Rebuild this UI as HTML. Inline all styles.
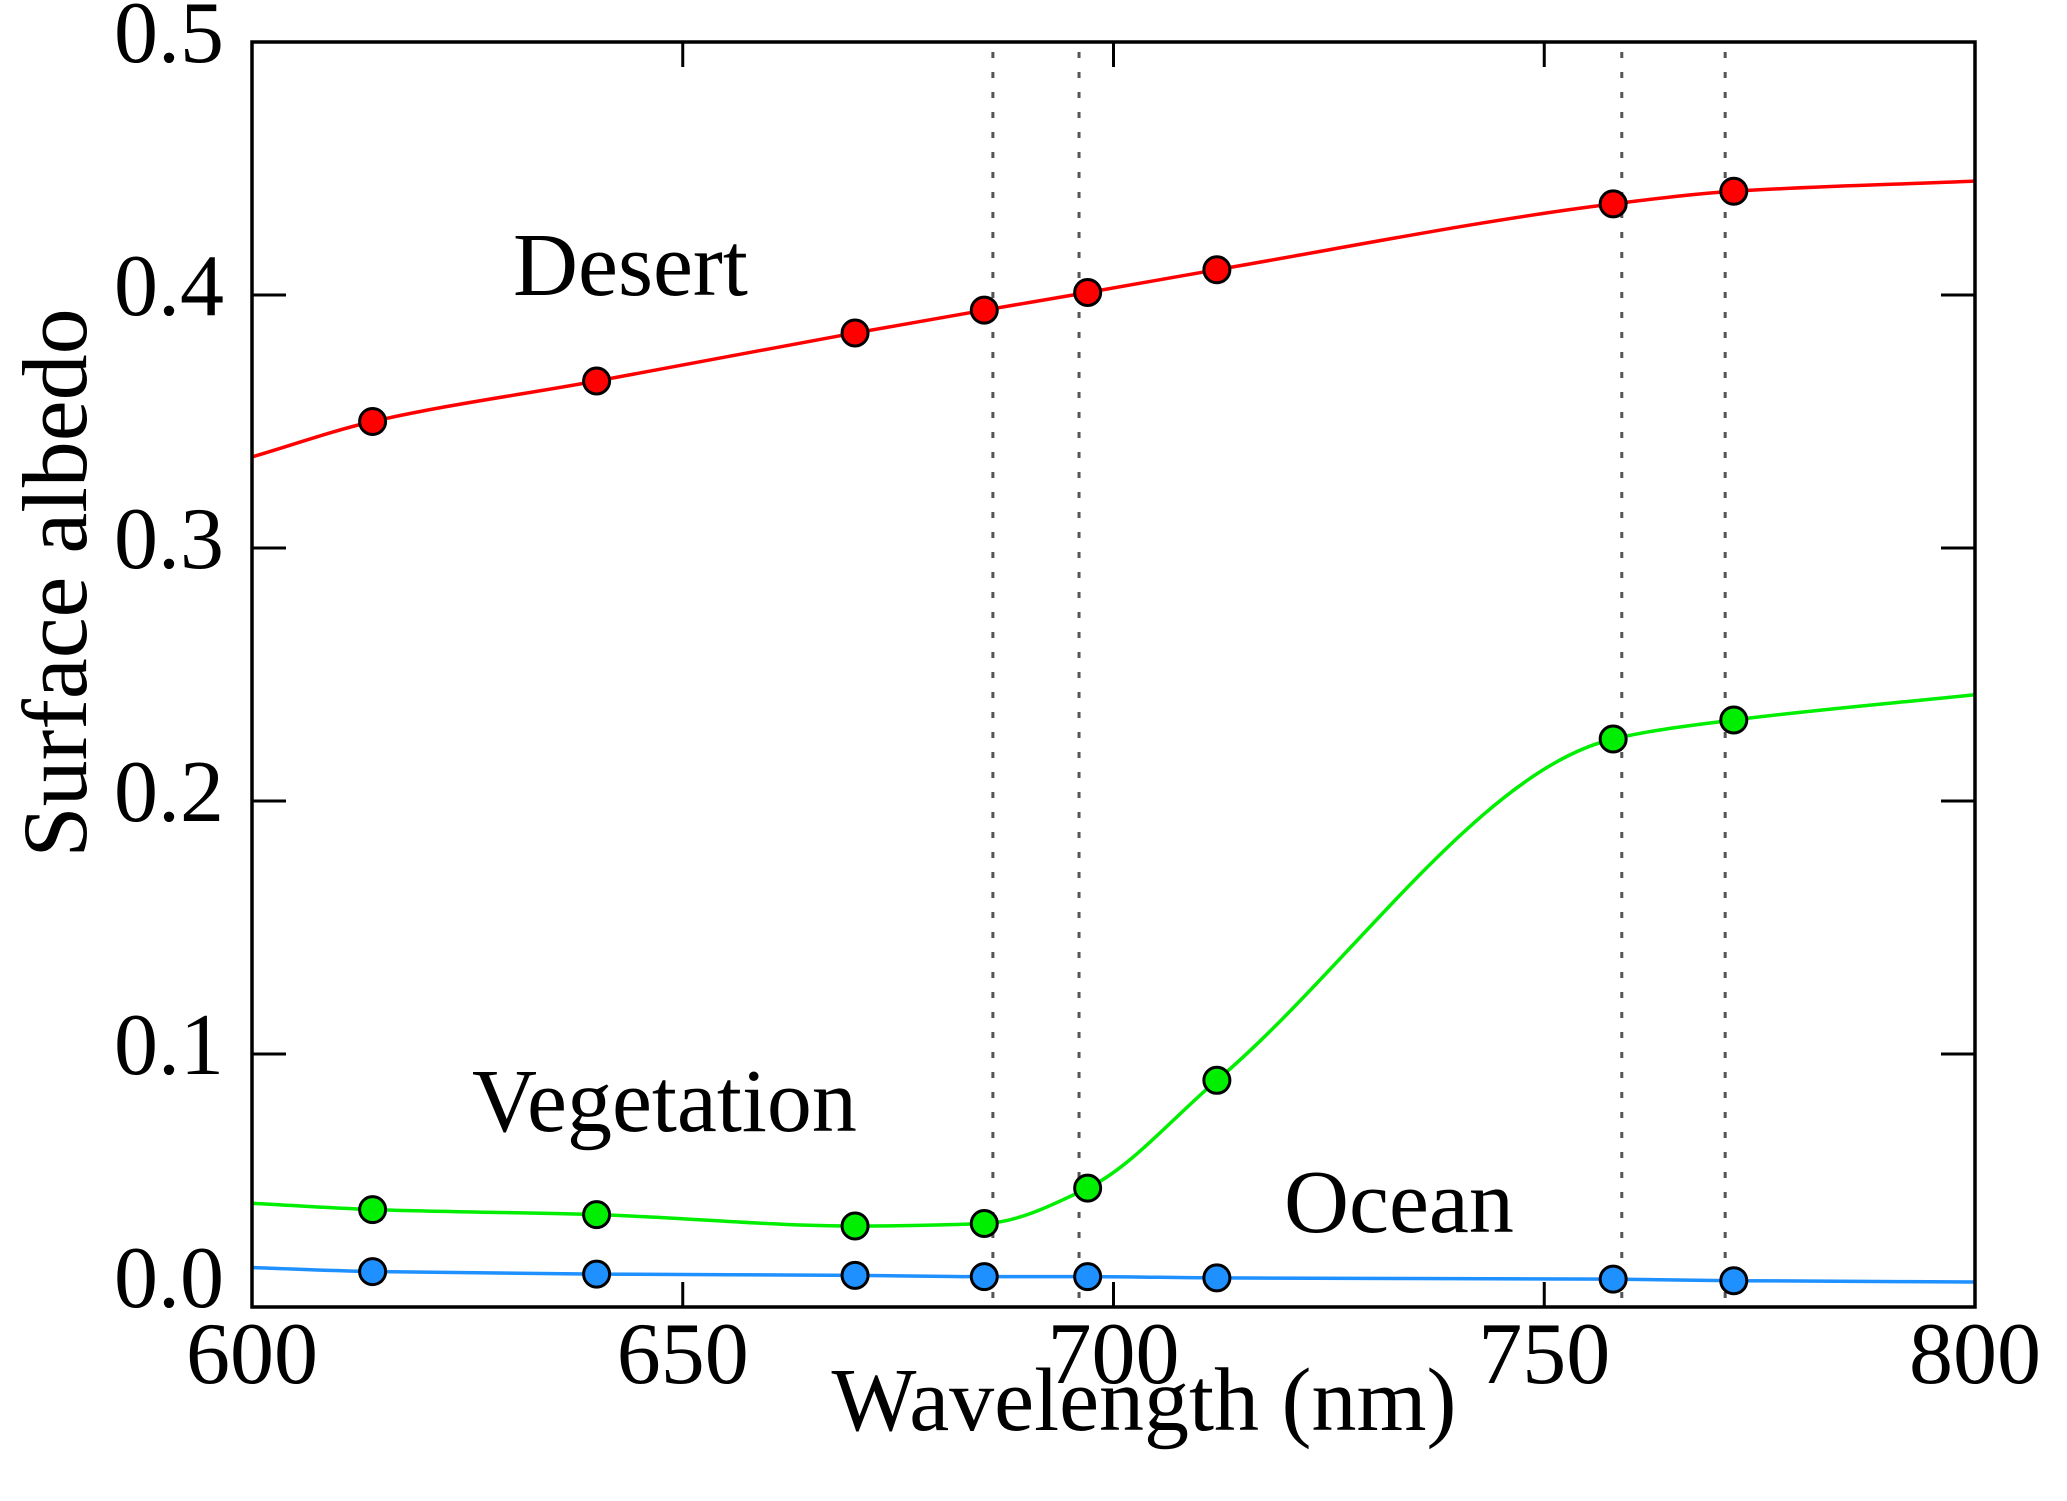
<!DOCTYPE html>
<html><head><meta charset="utf-8">
<style>
html,body{margin:0;padding:0;background:#fff;}
svg{display:block;font-family:"Liberation Serif",serif;}
</style></head>
<body>
<svg id="chart" width="2067" height="1501" viewBox="0 0 2067 1501">
<g id="dots"></g>
<g id="series"></g>
<rect x="252" y="42" width="1723" height="1265" fill="none" stroke="#000" stroke-width="3.5"/>
<g id="ticks"></g>
<text x="1144" y="1430" font-size="90" text-anchor="middle">Wavelength (nm)</text>
<text transform="translate(86,583) rotate(-90)" font-size="92" text-anchor="middle">Surface albedo</text>
<text x="513" y="295" font-size="90">Desert</text>
<text x="472" y="1131" font-size="90">Vegetation</text>
<text x="1284" y="1232" font-size="90">Ocean</text>
</svg>
<script>
const xTicks = [600, 650, 700, 750, 800];
const yTicks = [0.0, 0.1, 0.2, 0.3, 0.4, 0.5];
const yTickLabels = ["0.0", "0.1", "0.2", "0.3", "0.4", "0.5"];
const bandLines = [686, 696, 759, 771];
const markerWl = [614, 640, 670, 685, 697, 712, 758, 772];
const desertVals = [0.350, 0.366, 0.385, 0.394, 0.401, 0.410, 0.436, 0.441];
const desertEnds = [0.336, 0.445];
const vegVals = [0.0385, 0.0365, 0.032, 0.033, 0.047, 0.0896, 0.2245, 0.232];
const vegEnds = [0.041, 0.242];
const oceanVals = [0.014, 0.013, 0.0125, 0.012, 0.012, 0.0115, 0.011, 0.0104];
const oceanEnds = [0.0156, 0.0099];

const X0 = 252, X1 = 1975, Y0 = 1307, Y1 = 42;
const xs = w => X0 + (w - 600) / 200 * (X1 - X0);
const ys = v => Y0 - v / 0.5 * (Y0 - Y1);
const NS = "http://www.w3.org/2000/svg";
const mk = (t, a, p) => { const e = document.createElementNS(NS, t); for (const k in a) e.setAttribute(k, a[k]); p.appendChild(e); return e; };

const dots = document.getElementById('dots');
bandLines.forEach(w => {
  const l = mk('line', {x1: xs(w), x2: xs(w), y1: Y1 + 10, y2: Y0, stroke: '#555', 'stroke-width': 3, 'stroke-dasharray': '6 14'}, dots);
  
  
});

const ticks = document.getElementById('ticks');
xTicks.forEach(w => {
  const a = mk('line', {x1: xs(w), x2: xs(w), y1: Y0, y2: Y0 - 25, stroke: '#000', 'stroke-width': 3}, ticks);
  
  
  const b = mk('line', {x1: xs(w), x2: xs(w), y1: Y1, y2: Y1 + 25, stroke: '#000', 'stroke-width': 3}, ticks);
  
  
  const t = mk('text', {x: xs(w), y: 1383, 'font-size': 88, 'text-anchor': 'middle'}, ticks);
  t.textContent = String(w);
  
  
});
yTicks.forEach((v, i) => {
  const a = mk('line', {x1: X0, x2: X0 + 34, y1: ys(v), y2: ys(v), stroke: '#000', 'stroke-width': 3}, ticks);
  
  
  const b = mk('line', {x1: X1, x2: X1 - 34, y1: ys(v), y2: ys(v), stroke: '#000', 'stroke-width': 3}, ticks);
  
  
  const t = mk('text', {x: 224, y: ys(v) + (i === 0 ? 0 : 20), 'font-size': 88, 'text-anchor': 'end'}, ticks);
  t.textContent = yTickLabels[i];
  
  
});

// monotone cubic (Fritsch-Carlson) in pixel space
function spline(pts) {
  const n = pts.length, d = [], m = new Array(n);
  for (let i = 0; i < n - 1; i++) d.push((pts[i + 1][1] - pts[i][1]) / (pts[i + 1][0] - pts[i][0]));
  m[0] = d[0]; m[n - 1] = d[n - 2];
  for (let i = 1; i < n - 1; i++) {
    if (d[i - 1] * d[i] <= 0) m[i] = 0;
    else {
      const h0 = pts[i][0] - pts[i - 1][0], h1 = pts[i + 1][0] - pts[i][0];
      const w1 = 2 * h1 + h0, w2 = h1 + 2 * h0;
      m[i] = (w1 + w2) / (w1 / d[i - 1] + w2 / d[i]);
    }
  }
  let s = 'M' + pts[0][0] + ',' + pts[0][1];
  for (let i = 0; i < n - 1; i++) {
    const h = pts[i + 1][0] - pts[i][0];
    s += ' C' + (pts[i][0] + h / 3) + ',' + (pts[i][1] + m[i] * h / 3) + ' ' +
         (pts[i + 1][0] - h / 3) + ',' + (pts[i + 1][1] - m[i + 1] * h / 3) + ' ' + pts[i + 1][0] + ',' + pts[i + 1][1];
  }
  return s;
}

const series = document.getElementById('series');
function drawSeries(name, vals, ends, color) {
  const pts = [[xs(600), ys(ends[0])]].concat(markerWl.map((w, i) => [xs(w), ys(vals[i])])).concat([[xs(800), ys(ends[1])]]);
  const p = mk('path', {d: spline(pts), fill: 'none', stroke: color, 'stroke-width': 3.5}, series);
  
  
  markerWl.forEach((w, i) => {
    const c = mk('circle', {cx: xs(w), cy: ys(vals[i]), r: 13, fill: color, stroke: '#000', 'stroke-width': 3}, series);
    
    
  });
}
drawSeries('desert', desertVals, desertEnds, '#ff0000');
drawSeries('vegetation', vegVals, vegEnds, '#00ee00');
drawSeries('ocean', oceanVals, oceanEnds, '#1e90ff');
</script>
</body></html>
